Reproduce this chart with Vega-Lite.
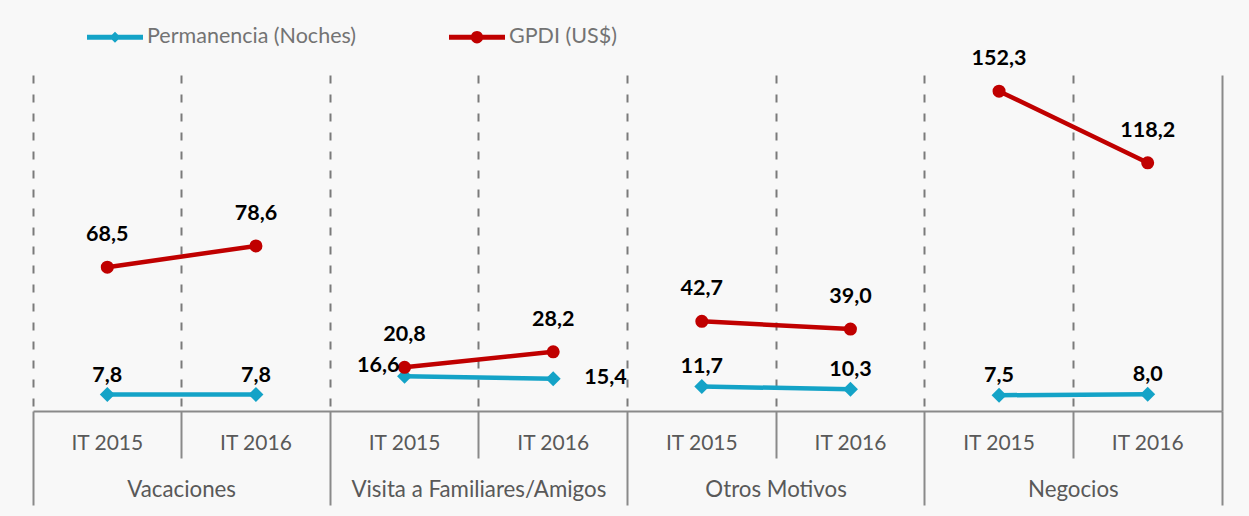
{
  "$schema": "https://vega.github.io/schema/vega-lite/v6.json",
  "width": 1189,
  "height": 336,
  "autosize": "none",
  "padding": {"left": 33, "top": 75, "right": 27, "bottom": 105},
  "background": "#f8f8f8",
  "config": {
    "view": {"stroke": null},
    "font": "Lato",
    "locale": {"number": {"decimal": ",", "thousands": ".", "grouping": [3], "currency": ["", " US$"]}}
  },
  "data": {
    "values": [
      {"motivo": "Vacaciones", "periodo": "IT 2015", "serie": "Permanencia (Noches)", "valor": 7.8},
      {"motivo": "Vacaciones", "periodo": "IT 2016", "serie": "Permanencia (Noches)", "valor": 7.8},
      {"motivo": "Visita a Familiares/Amigos", "periodo": "IT 2015", "serie": "Permanencia (Noches)", "valor": 16.6},
      {"motivo": "Visita a Familiares/Amigos", "periodo": "IT 2016", "serie": "Permanencia (Noches)", "valor": 15.4},
      {"motivo": "Otros Motivos", "periodo": "IT 2015", "serie": "Permanencia (Noches)", "valor": 11.7},
      {"motivo": "Otros Motivos", "periodo": "IT 2016", "serie": "Permanencia (Noches)", "valor": 10.3},
      {"motivo": "Negocios", "periodo": "IT 2015", "serie": "Permanencia (Noches)", "valor": 7.5},
      {"motivo": "Negocios", "periodo": "IT 2016", "serie": "Permanencia (Noches)", "valor": 8.0},
      {"motivo": "Vacaciones", "periodo": "IT 2015", "serie": "GPDI (US$)", "valor": 68.5},
      {"motivo": "Vacaciones", "periodo": "IT 2016", "serie": "GPDI (US$)", "valor": 78.6},
      {"motivo": "Visita a Familiares/Amigos", "periodo": "IT 2015", "serie": "GPDI (US$)", "valor": 20.8},
      {"motivo": "Visita a Familiares/Amigos", "periodo": "IT 2016", "serie": "GPDI (US$)", "valor": 28.2},
      {"motivo": "Otros Motivos", "periodo": "IT 2015", "serie": "GPDI (US$)", "valor": 42.7},
      {"motivo": "Otros Motivos", "periodo": "IT 2016", "serie": "GPDI (US$)", "valor": 39.0},
      {"motivo": "Negocios", "periodo": "IT 2015", "serie": "GPDI (US$)", "valor": 152.3},
      {"motivo": "Negocios", "periodo": "IT 2016", "serie": "GPDI (US$)", "valor": 118.2}
    ]
  },
  "transform": [{"calculate": "datum.motivo + '|' + datum.periodo", "as": "clave"}],
  "layer": [
    {
      "mark": {"type": "line", "strokeWidth": 4.5, "strokeCap": "round"},
      "encoding": {
        "x": {
          "field": "clave", "type": "nominal",
          "scale": {"type": "band", "paddingInner": 0, "paddingOuter": 0, "domain": ["Vacaciones|IT 2015", "Vacaciones|IT 2016", "Visita a Familiares/Amigos|IT 2015", "Visita a Familiares/Amigos|IT 2016", "Otros Motivos|IT 2015", "Otros Motivos|IT 2016", "Negocios|IT 2015", "Negocios|IT 2016"]},
          "axis": {"orient": "bottom", "title": null, "labelExpr": "split(datum.value, '|')[1]", "ticks": false, "tickSize": 0, "labelPadding": 32, "labelBaseline": "middle", "labelAngle": 0, "labelFont": "Lato", "labelFontSize": 21, "labelColor": "#595959", "domain": true, "domainColor": "#8a8a8a", "domainWidth": 2, "grid": false}
        },
        "y": {"field": "valor", "type": "quantitative", "scale": {"domain": [0, 160], "nice": false}, "axis": null},
        "color": {
          "field": "serie", "type": "nominal",
          "scale": {"domain": ["Permanencia (Noches)", "GPDI (US$)"], "range": ["#14a3c7", "#c00000"]},
          "legend": {
            "title": null, "orient": "none", "legendX": 54, "legendY": -66, "direction": "horizontal",
            "symbolSize": 3136, "labelFont": "Lato", "labelFontSize": 21.5, "labelColor": "#737373", "labelOffset": 4, "labelLimit": 400, "columnPadding": 92,
            "encode": {"symbols": {"update": {
              "shape": {"signal": "datum.value === 'GPDI (US$)' ? 'M-1,-0.09L1,-0.09L1,0.09L-1,0.09Z M0.22,0A0.22,0.22 0 1,1 -0.22,0A0.22,0.22 0 1,1 0.22,0Z' : 'M-1,-0.09L1,-0.09L1,0.09L-1,0.09Z M0,-0.2L0.2,0L0,0.2L-0.2,0Z'"},
              "fill": {"scale": "color", "field": "value"},
              "strokeWidth": {"value": 0},
              "opacity": {"value": 1}
            }}}
          }
        },
        "detail": {"field": "motivo"}
      }
    },
    {
      "transform": [{"filter": "datum.serie === 'Permanencia (Noches)'"}],
      "mark": {"type": "point", "shape": "diamond", "filled": true, "size": 225, "opacity": 1, "color": "#14a3c7"},
      "encoding": {
        "x": {
          "field": "clave", "type": "nominal",
          "scale": {"type": "band", "paddingInner": 0, "paddingOuter": 0, "domain": ["Vacaciones|IT 2015", "Vacaciones|IT 2016", "Visita a Familiares/Amigos|IT 2015", "Visita a Familiares/Amigos|IT 2016", "Otros Motivos|IT 2015", "Otros Motivos|IT 2016", "Negocios|IT 2015", "Negocios|IT 2016"]},
          "axis": {"orient": "bottom", "title": null, "values": ["Vacaciones|IT 2015", "Visita a Familiares/Amigos|IT 2015", "Otros Motivos|IT 2015", "Negocios|IT 2015"], "bandPosition": 1, "labelExpr": "split(datum.value, '|')[0]", "labelOffset": 74.3, "labelLimit": 400, "labelAlign": "center", "ticks": true, "tickSize": 47, "tickColor": "#8a8a8a", "tickWidth": 2, "labelPadding": 31, "labelBaseline": "middle", "labelAngle": 0, "labelFont": "Lato", "labelFontSize": 22.3, "labelColor": "#595959", "domain": false, "grid": true, "gridColor": "#7a7a7a", "gridWidth": 2, "gridDash": [8, 11]}
        },
        "y": {"field": "valor", "type": "quantitative", "scale": {"domain": [0, 160], "nice": false}, "axis": null}
      }
    },
    {
      "transform": [{"filter": "datum.serie === 'GPDI (US$)'"}],
      "mark": {"type": "point", "shape": "circle", "filled": true, "size": 170, "opacity": 1, "color": "#c00000"},
      "encoding": {
        "x": {
          "field": "clave", "type": "nominal",
          "scale": {"type": "band", "paddingInner": 0, "paddingOuter": 0, "domain": ["Vacaciones|IT 2015", "Vacaciones|IT 2016", "Visita a Familiares/Amigos|IT 2015", "Visita a Familiares/Amigos|IT 2016", "Otros Motivos|IT 2015", "Otros Motivos|IT 2016", "Negocios|IT 2015", "Negocios|IT 2016"]},
          "axis": {"orient": "bottom", "title": null, "values": ["Vacaciones|IT 2015", "Visita a Familiares/Amigos|IT 2015", "Otros Motivos|IT 2015", "Negocios|IT 2015"], "bandPosition": 0, "labels": false, "ticks": true, "tickSize": 94, "tickColor": "#8a8a8a", "tickWidth": 2, "domain": false, "grid": true, "gridColor": "#7a7a7a", "gridWidth": 2, "gridDash": [8, 11]}
        },
        "y": {"field": "valor", "type": "quantitative", "scale": {"domain": [0, 160], "nice": false}, "axis": null}
      }
    },
    {
      "transform": [{"filter": "datum.serie === 'GPDI (US$)'"}],
      "mark": {"type": "text", "dy": -32, "baseline": "middle", "font": "Lato", "fontWeight": "bold", "fontSize": 21.5, "color": "#000000"},
      "encoding": {
        "x": {
          "field": "clave", "type": "nominal",
          "scale": {"type": "band", "paddingInner": 0, "paddingOuter": 0, "domain": ["Vacaciones|IT 2015", "Vacaciones|IT 2016", "Visita a Familiares/Amigos|IT 2015", "Visita a Familiares/Amigos|IT 2016", "Otros Motivos|IT 2015", "Otros Motivos|IT 2016", "Negocios|IT 2015", "Negocios|IT 2016"]},
          "axis": {"orient": "bottom", "title": null, "values": ["Negocios|IT 2016"], "bandPosition": 1, "labels": false, "ticks": true, "tickSize": 94, "tickColor": "#8a8a8a", "tickWidth": 2, "domain": false, "grid": true, "gridColor": "#8a8a8a", "gridWidth": 2}
        },
        "y": {"field": "valor", "type": "quantitative", "scale": {"domain": [0, 160], "nice": false}, "axis": null},
        "text": {"field": "valor", "type": "quantitative", "format": ".1f"}
      }
    },
    {
      "transform": [{"filter": "datum.serie === 'Permanencia (Noches)' && datum.motivo !== 'Visita a Familiares/Amigos'"}],
      "mark": {"type": "text", "dy": -19, "baseline": "middle", "font": "Lato", "fontWeight": "bold", "fontSize": 21.5, "color": "#000000"},
      "encoding": {
        "x": {"field": "clave", "type": "nominal", "scale": {"type": "band", "paddingInner": 0, "paddingOuter": 0, "domain": ["Vacaciones|IT 2015", "Vacaciones|IT 2016", "Visita a Familiares/Amigos|IT 2015", "Visita a Familiares/Amigos|IT 2016", "Otros Motivos|IT 2015", "Otros Motivos|IT 2016", "Negocios|IT 2015", "Negocios|IT 2016"]}, "axis": null},
        "y": {"field": "valor", "type": "quantitative", "scale": {"domain": [0, 160], "nice": false}, "axis": null},
        "text": {"field": "valor", "type": "quantitative", "format": ".1f"}
      }
    },
    {
      "transform": [{"filter": "datum.serie === 'Permanencia (Noches)' && datum.motivo === 'Visita a Familiares/Amigos' && datum.periodo === 'IT 2015'"}],
      "mark": {"type": "text", "align": "right", "dx": -5, "dy": -10, "baseline": "middle", "font": "Lato", "fontWeight": "bold", "fontSize": 21.5, "color": "#000000"},
      "encoding": {
        "x": {"field": "clave", "type": "nominal", "scale": {"type": "band", "paddingInner": 0, "paddingOuter": 0, "domain": ["Vacaciones|IT 2015", "Vacaciones|IT 2016", "Visita a Familiares/Amigos|IT 2015", "Visita a Familiares/Amigos|IT 2016", "Otros Motivos|IT 2015", "Otros Motivos|IT 2016", "Negocios|IT 2015", "Negocios|IT 2016"]}, "axis": null},
        "y": {"field": "valor", "type": "quantitative", "scale": {"domain": [0, 160], "nice": false}, "axis": null},
        "text": {"field": "valor", "type": "quantitative", "format": ".1f"}
      }
    },
    {
      "transform": [{"filter": "datum.serie === 'Permanencia (Noches)' && datum.motivo === 'Visita a Familiares/Amigos' && datum.periodo === 'IT 2016'"}],
      "mark": {"type": "text", "align": "left", "dx": 31, "dy": -1, "baseline": "middle", "font": "Lato", "fontWeight": "bold", "fontSize": 21.5, "color": "#000000"},
      "encoding": {
        "x": {"field": "clave", "type": "nominal", "scale": {"type": "band", "paddingInner": 0, "paddingOuter": 0, "domain": ["Vacaciones|IT 2015", "Vacaciones|IT 2016", "Visita a Familiares/Amigos|IT 2015", "Visita a Familiares/Amigos|IT 2016", "Otros Motivos|IT 2015", "Otros Motivos|IT 2016", "Negocios|IT 2015", "Negocios|IT 2016"]}, "axis": null},
        "y": {"field": "valor", "type": "quantitative", "scale": {"domain": [0, 160], "nice": false}, "axis": null},
        "text": {"field": "valor", "type": "quantitative", "format": ".1f"}
      }
    }
  ],
  "resolve": {"axis": {"x": "independent"}}
}
